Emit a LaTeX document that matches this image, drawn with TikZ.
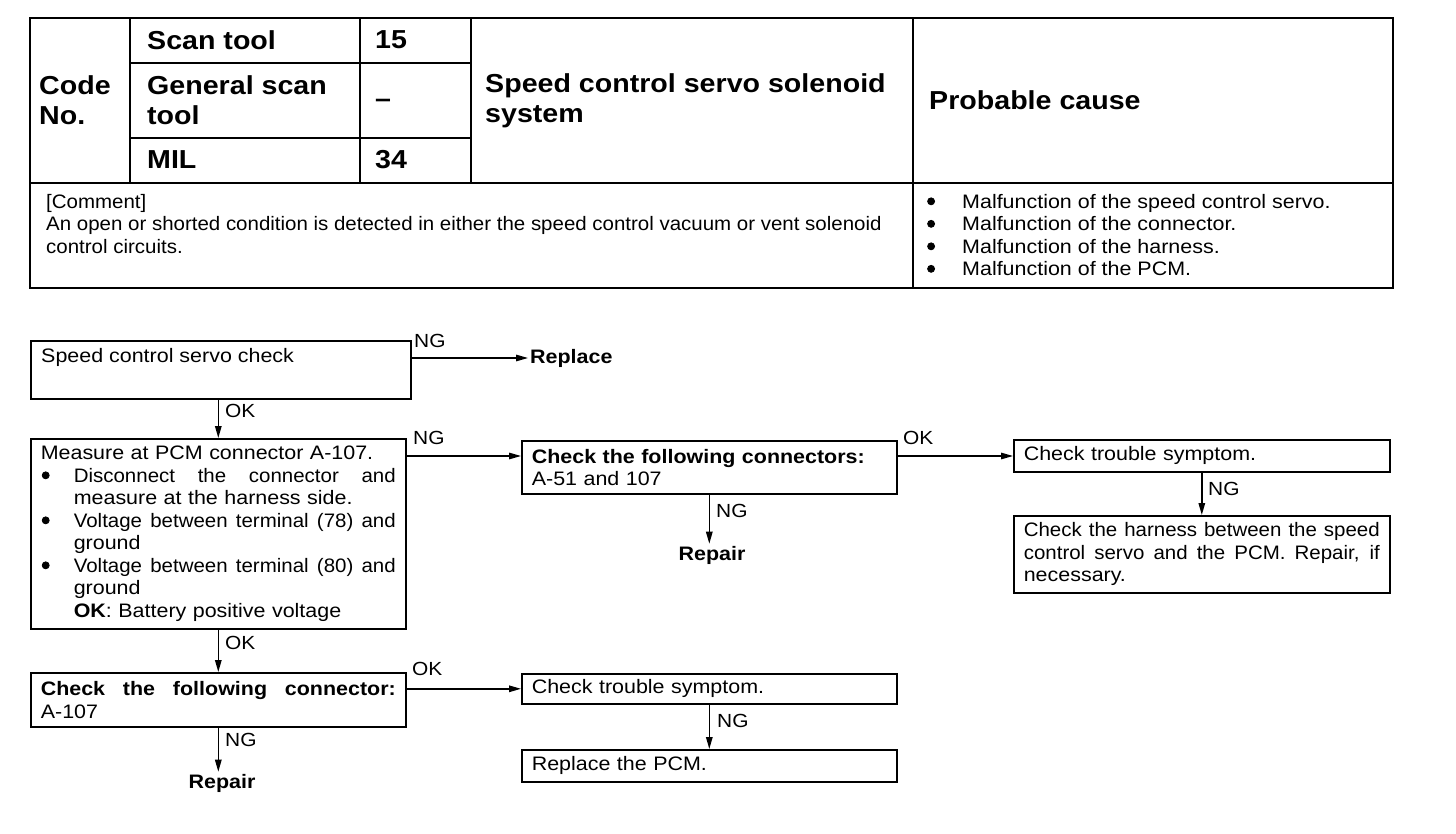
\documentclass[tikz,border=0pt]{standalone}
\usepackage{fontspec}
\setmainfont{Liberation Sans}[FakeStretch=1.1]
\newfontfamily\cmtfont{Liberation Sans}[FakeStretch=1.05]
\usetikzlibrary{arrows.meta,calc}
\newcommand\bul{\tikz[baseline=0pt]\path[fill=black,draw=black,line width=0.8pt] (3.9pt,7pt) circle[radius=3.5pt];}
\newcommand\itm[1]{\makebox[33pt][l]{\hspace{1pt}\bul}#1}
\newcommand\jst[1]{\makebox[\dimexpr\hsize-33pt\relax][s]{\cmtfont\spaceskip=0pt\xspaceskip=0pt #1}}
\newcommand\fulljst[1]{\makebox[\hsize][s]{\spaceskip=0pt\xspaceskip=0pt #1}}
\newcommand\fulljstn[1]{\makebox[\hsize][s]{\cmtfont\spaceskip=0pt\xspaceskip=0pt #1}}
\begin{document}
\begin{tikzpicture}[x=1pt,y=-1pt,
  hdr/.style={font=\fontsize{26}{30}\selectfont\bfseries, inner sep=0pt, align=left},
  txt/.style={font=\fontsize{19.5}{22.5}\selectfont, inner sep=0pt, align=left},
  box/.style={draw, line width=1.6pt, anchor=north west, inner xsep=10pt, inner ysep=0pt,
     font=\fontsize{19.5}{22.5}\selectfont, align=left},
  lbl/.style={font=\fontsize{19}{22}\selectfont, inner sep=0pt, anchor=west},
  term/.style={font=\fontsize{19.5}{22.5}\selectfont\bfseries, inner sep=2pt},
  arr/.style={line width=1.4pt, -{Triangle[length=12pt,width=6.5pt]}},
  tline/.style={line width=1.8pt},
]
\useasboundingbox (0,0) rectangle (1456,834);
% ---------- header table ----------
\draw[line width=2.4pt] (30,18) rectangle (1393,288);
\draw[tline] (30,183) -- (1393,183);
\draw[tline] (130,18) -- (130,183);
\draw[tline] (360,18) -- (360,183);
\draw[tline] (471,18) -- (471,183);
\draw[tline] (913,18) -- (913,288);
\draw[tline] (130,63) -- (471,63);
\draw[tline] (130,138) -- (471,138);
\node[hdr, anchor=west] (code) at (39,100) {Code\\No.};
\node[hdr, anchor=west] (scan) at (147,40) {Scan tool};
\node[hdr, anchor=west] (v15) at (375,40) {15};
\node[hdr, anchor=west] (gen) at (147,100) {General scan\\tool};
\node[hdr, anchor=west] (vdash) at (375,103) {–};
\node[hdr, anchor=west] (mil) at (147,160) {MIL};
\node[hdr, anchor=west] (v34) at (375,160) {34};
\node[hdr, anchor=west] (title) at (485,101) {Speed control servo solenoid\\system};
\node[hdr, anchor=west] (prob) at (929,100) {Probable cause};
\node[txt, font=\cmtfont\fontsize{19.5}{22.5}\selectfont, anchor=north west] (comment) at (46,194) {[Comment]\\An open or shorted condition is detected in either the speed control vacuum or vent solenoid\\control circuits.};
\node[txt, anchor=north west] (causes) at (927,194) {%
\makebox[35pt][l]{\bul}Malfunction of the speed control servo.\\
\makebox[35pt][l]{\bul}Malfunction of the connector.\\
\makebox[35pt][l]{\bul}Malfunction of the harness.\\
\makebox[35pt][l]{\bul}Malfunction of the PCM.};
% ---------- flowchart boxes ----------
\node[box, minimum width=380pt, minimum height=58pt] (b1) at (30,340) {};
\node[txt, anchor=west] (t1) at ($(b1.north west)+(11,17)$) {Speed control servo check};
\node[box, text width=355pt, minimum height=190pt] (b2) at (30,438) {%
Measure at PCM connector A-107.\\
\itm{\jst{Disconnect the connector and}}\\
\hspace*{33pt}measure at the harness side.\\
\itm{\jst{Voltage between terminal (78) and}}\\
\hspace*{33pt}ground\\
\itm{\jst{Voltage between terminal (80) and}}\\
\hspace*{33pt}ground\\
\hspace*{33pt}\textbf{OK}: Battery positive voltage};
\node[box, text width=355pt, minimum height=53pt] (b3) at (521,440) {%
\textbf{Check the following connectors:}\\A-51 and 107};
\node[box, text width=356pt, minimum height=32pt] (b4) at (1013,439) {Check trouble symptom.};
\node[box, text width=356pt, minimum height=77pt] (b5) at (1013,515) {%
\fulljstn{Check the harness between the speed}\\
\fulljstn{control servo and the PCM. Repair, if}\\
necessary.};
\node[box, text width=355pt, minimum height=54pt] (b6) at (30,672) {%
\fulljst{\textbf{Check the following connector:}}\\A-107};
\node[box, text width=355pt, minimum height=30pt] (b7) at (521,673) {Check trouble symptom.};
\node[box, text width=355pt, minimum height=32pt] (b8) at (521,749) {Replace the PCM.};
% ---------- terminals ----------
\node[term, anchor=west] (rep1) at (528,358) {Replace};
\node[term] (rep2) at (712,555) {Repair};
\node[term] (rep3) at (222,783) {Repair};
% ---------- connectors ----------
\coordinate (j1) at (0,456);
\draw[arr] (b1.east |- rep1.west) -- (rep1.west);
\draw[arr] (b1.south -| b2.north) -- (b2.north);
\draw[arr] (b2.east |- j1) -- (b3.west |- j1);
\draw[arr] (b3.east |- j1) -- (b4.west |- j1);
\draw[arr] (b3.south) -- (b3.south |- rep2.north);
\draw[arr] (b4.south) -- (b5.north);
\draw[arr] (b2.south) -- (b6.north);
\draw[arr] (b6.east |- b7.west) -- (b7.west);
\draw[arr] (b6.south) -- (b6.south |- rep3.north);
\draw[arr] (b7.south) -- (b8.north);
% ---------- labels ----------
\node[lbl] (ng1) at (414,341) {NG};
\node[lbl] (ok1) at (225,411) {OK};
\node[lbl] (ng2) at (413,438) {NG};
\node[lbl] (ok2) at (903,438) {OK};
\node[lbl] (ng3) at (716,511) {NG};
\node[lbl] (ng4) at (1208,489) {NG};
\node[lbl] (ok3) at (225,643) {OK};
\node[lbl] (ok4) at (412,669) {OK};
\node[lbl] (ng5) at (225,740) {NG};
\node[lbl] (ng6) at (717,721) {NG};
\end{tikzpicture}
\end{document}
